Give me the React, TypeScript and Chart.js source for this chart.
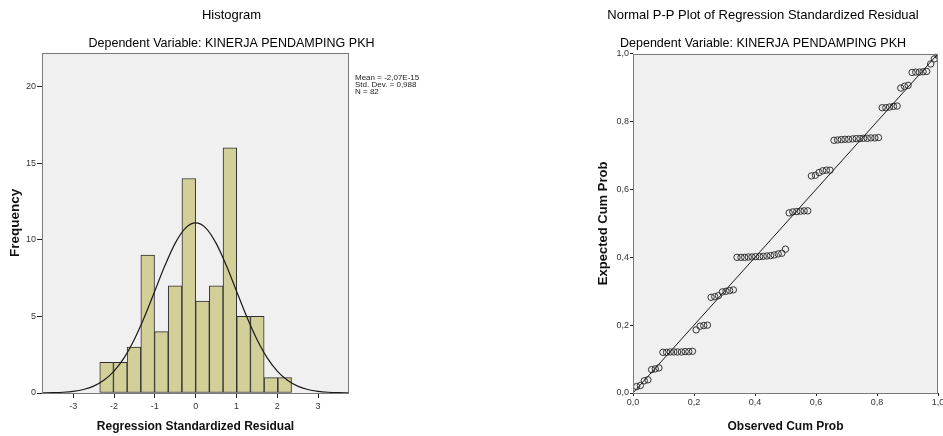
import React, { useEffect, useRef } from "react";
import { Chart, registerables } from "chart.js";
Chart.register(...registerables);

const FONT = "'Liberation Sans', Arial, Helvetica, sans-serif";

// ---------- Histogram data ----------
const HIST_TITLE = "Histogram";
const SUBTITLE = "Dependent Variable: KINERJA PENDAMPING PKH";
const HIST_X_LABEL = "Regression Standardized Residual";
const HIST_Y_LABEL = "Frequency";
const BIN_CENTERS = [-2.182, -1.846, -1.511, -1.175, -0.839, -0.504, -0.168, 0.168, 0.504, 0.839, 1.175, 1.511, 1.846, 2.182];
const FREQUENCIES = [2, 2, 3, 9, 4, 7, 14, 6, 7, 16, 5, 5, 1, 1];
const CURVE_X = [-3.75, -3.5, -3.25, -3, -2.75, -2.5, -2.25, -2, -1.75, -1.5, -1.25, -1, -0.75, -0.5, -0.25, 0, 0.25, 0.5, 0.75, 1, 1.25, 1.5, 1.75, 2, 2.25, 2.5, 2.75, 3, 3.25, 3.5, 3.75];
const CURVE_Y = [0.01, 0.02, 0.05, 0.11, 0.23, 0.45, 0.83, 1.43, 2.31, 3.51, 4.99, 6.66, 8.33, 9.78, 10.76, 11.1, 10.76, 9.78, 8.33, 6.66, 4.99, 3.51, 2.31, 1.43, 0.83, 0.45, 0.23, 0.11, 0.05, 0.02, 0.01];
const HIST_X_TICKS = [-3, -2, -1, 0, 1, 2, 3];
const HIST_Y_TICKS = [0, 5, 10, 15, 20];
const HIST_STATS = ["Mean = -2,07E-15", "Std. Dev. = 0,988", "N = 82"];

// ---------- P-P plot data ----------
const PP_TITLE = "Normal P-P Plot of Regression Standardized Residual";
const PP_X_LABEL = "Observed Cum Prob";
const PP_Y_LABEL = "Expected Cum Prob";
const OBSERVED = [
  0.012, 0.024, 0.037, 0.049, 0.061, 0.073, 0.085,
  0.098, 0.110, 0.122, 0.134, 0.146, 0.159, 0.171, 0.183, 0.195,
  0.207, 0.220, 0.232, 0.244,
  0.256, 0.268, 0.280, 0.293, 0.305, 0.317, 0.329,
  0.341, 0.354, 0.366, 0.378, 0.390, 0.402, 0.415, 0.427, 0.439, 0.451, 0.463, 0.476, 0.488, 0.500,
  0.512, 0.524, 0.537, 0.549, 0.561, 0.573,
  0.585, 0.598, 0.610, 0.622, 0.634, 0.646,
  0.659, 0.671, 0.683, 0.695, 0.707, 0.720, 0.732, 0.744, 0.756, 0.768, 0.780, 0.793, 0.805,
  0.817, 0.829, 0.841, 0.854, 0.866,
  0.878, 0.890, 0.902,
  0.915, 0.927, 0.939, 0.951, 0.963,
  0.976, 0.988, 1.0,
];
const EXPECTED = [
  0.019, 0.022, 0.036, 0.039, 0.069, 0.071, 0.074,
  0.120, 0.120, 0.121, 0.121, 0.121, 0.121, 0.122, 0.122, 0.123,
  0.186, 0.197, 0.199, 0.200,
  0.282, 0.284, 0.287, 0.298, 0.300, 0.302, 0.304,
  0.400, 0.400, 0.400, 0.401, 0.401, 0.402, 0.402, 0.403, 0.404, 0.405, 0.407, 0.410, 0.412, 0.424,
  0.531, 0.534, 0.535, 0.536, 0.537, 0.537,
  0.640, 0.642, 0.650, 0.655, 0.657, 0.657,
  0.745, 0.746, 0.747, 0.748, 0.748, 0.749, 0.750, 0.750, 0.751, 0.751, 0.752, 0.752, 0.753,
  0.841, 0.841, 0.843, 0.845, 0.846,
  0.899, 0.904, 0.907,
  0.945, 0.946, 0.946, 0.947, 0.948,
  0.970, 0.985, 0.995,
];
const DIAGONAL_X = [0, 1];
const DIAGONAL_Y = [0, 1];
const PP_TICKS = [0, 0.2, 0.4, 0.6, 0.8, 1.0];
const PP_TICK_LABELS = ["0,0", "0,2", "0,4", "0,6", "0,8", "1,0"];

const framePlugin = {
  id: "frame",
  beforeDraw(chart: any) {
    const { ctx, chartArea } = chart;
    const { left, top, right, bottom } = chartArea;
    ctx.save();
    ctx.fillStyle = "#f0f0f0";
    ctx.fillRect(left, top, right - left, bottom - top);
    ctx.restore();
  },
  afterDraw(chart: any) {
    const { ctx, chartArea } = chart;
    const { left, top, right, bottom } = chartArea;
    ctx.save();
    ctx.strokeStyle = "#7a7a7a";
    ctx.lineWidth = 1;
    ctx.strokeRect(Math.round(left) + 0.5, Math.round(top) + 0.5, Math.round(right - left) - 1, Math.round(bottom - top));
    ctx.restore();
  },
};

const statsPlugin = {
  id: "stats",
  afterDraw(chart: any) {
    const { ctx, chartArea } = chart;
    ctx.save();
    ctx.font = `8px ${FONT}`;
    ctx.fillStyle = "#222";
    ctx.textBaseline = "middle";
    ctx.textAlign = "left";
    HIST_STATS.forEach((t, i) => ctx.fillText(t, chartArea.right + 6, chartArea.top + 24.5 + i * 7.3));
    ctx.restore();
  },
};

const tickFont = { family: FONT, size: 9 };

export default function App() {
  const histRef = useRef<HTMLCanvasElement>(null);
  const ppRef = useRef<HTMLCanvasElement>(null);

  useEffect(() => {
    const hist = new Chart(histRef.current as HTMLCanvasElement, {
      type: "bar",
      data: {
        datasets: [
          {
            type: "bar",
            data: BIN_CENTERS.map((x, i) => ({ x, y: FREQUENCIES[i] })),
            backgroundColor: "#d3cf98",
            borderColor: "#2e2e2e",
            borderWidth: 1,
            borderSkipped: false,
            barPercentage: 1,
            categoryPercentage: 1,
            order: 1,
          } as any,
          {
            type: "line",
            data: CURVE_X.map((x, i) => ({ x, y: CURVE_Y[i] })),
            borderColor: "#1a1a1a",
            borderWidth: 1.2,
            pointRadius: 0,
            cubicInterpolationMode: "monotone",
            fill: false,
            order: 0,
          } as any,
        ],
      },
      options: {
        responsive: false,
        animation: false,
        layout: { padding: 0 },
        plugins: {
          legend: { display: false },
          tooltip: { enabled: false },
          title: {
            display: true,
            text: HIST_TITLE,
            color: "#000",
            font: { family: FONT, size: 13, weight: "normal" },
            padding: { top: 7.5, bottom: 5 },
          },
          subtitle: {
            display: true,
            text: SUBTITLE,
            color: "#000",
            font: { family: FONT, size: 12.5, weight: "normal" },
            padding: { top: 7.5, bottom: 2.2 },
          },
        },
        scales: {
          x: {
            type: "linear",
            min: -3.765,
            max: 3.758,
            offset: false,
            grid: { drawOnChartArea: false, offset: false, tickLength: 5, color: "#222" },
            border: { display: false },
            ticks: { font: tickFont, color: "#333", padding: 3, maxRotation: 0, autoSkip: false },
            afterBuildTicks: (s: any) => {
              s.ticks = HIST_X_TICKS.map((v) => ({ value: v }));
            },
            title: {
              display: true,
              text: HIST_X_LABEL,
              color: "#111",
              font: { family: FONT, size: 12, weight: "bold" },
              padding: { top: 0, bottom: 1.8 },
            },
            afterFit: (s: any) => {
              s.height = 43;
              s.paddingLeft = 0;
              s.paddingRight = 114;
            },
          } as any,
          y: {
            type: "linear",
            min: 0,
            max: 22.2,
            grid: { drawOnChartArea: false, tickLength: 5, color: "#222" },
            border: { display: false },
            ticks: { font: tickFont, color: "#333", padding: 1 },
            afterBuildTicks: (s: any) => {
              s.ticks = HIST_Y_TICKS.map((v) => ({ value: v }));
            },
            title: {
              display: true,
              text: HIST_Y_LABEL,
              color: "#111",
              font: { family: FONT, size: 13.5, weight: "bold" },
              padding: { top: 7, bottom: 0 },
            },
            afterFit: (s: any) => {
              s.width = 42;
              s.paddingTop = 0;
              s.paddingBottom = 0;
            },
          } as any,
        },
      },
      plugins: [framePlugin, statsPlugin],
    });

    const pp = new Chart(ppRef.current as HTMLCanvasElement, {
      type: "scatter",
      data: {
        datasets: [
          {
            type: "scatter",
            data: OBSERVED.map((x, i) => ({ x, y: EXPECTED[i] })),
            pointRadius: 3.2,
            pointBorderWidth: 1,
            pointBorderColor: "#333",
            pointBackgroundColor: "rgba(0,0,0,0)",
            order: 1,
          } as any,
          {
            type: "line",
            data: DIAGONAL_X.map((x, i) => ({ x, y: DIAGONAL_Y[i] })),
            borderColor: "#1a1a1a",
            borderWidth: 1,
            pointRadius: 0,
            fill: false,
            order: 0,
          } as any,
        ],
      },
      options: {
        responsive: false,
        animation: false,
        layout: { padding: 0 },
        plugins: {
          legend: { display: false },
          tooltip: { enabled: false },
          title: {
            display: true,
            text: PP_TITLE,
            color: "#000",
            font: { family: FONT, size: 13, weight: "normal" },
            padding: { top: 7.5, bottom: 5 },
          },
          subtitle: {
            display: true,
            text: SUBTITLE,
            color: "#000",
            font: { family: FONT, size: 12.5, weight: "normal" },
            padding: { top: 7.5, bottom: 3.2 },
          },
        },
        scales: {
          x: {
            type: "linear",
            min: 0,
            max: 1,
            grid: { drawOnChartArea: false, tickLength: 3, color: "#222" },
            border: { display: false },
            ticks: {
              font: tickFont,
              color: "#333",
              padding: 1,
              maxRotation: 0,
              autoSkip: false,
              callback: (_v: any, i: number) => PP_TICK_LABELS[i],
            },
            afterBuildTicks: (s: any) => {
              s.ticks = PP_TICKS.map((v) => ({ value: v }));
            },
            title: {
              display: true,
              text: PP_X_LABEL,
              color: "#111",
              font: { family: FONT, size: 12, weight: "bold" },
              padding: { top: 0, bottom: 2 },
            },
            afterFit: (s: any) => {
              s.height = 43;
              s.paddingLeft = 0;
              s.paddingRight = 5;
            },
          } as any,
          y: {
            type: "linear",
            min: 0,
            max: 1,
            grid: { drawOnChartArea: false, tickLength: 3, color: "#222" },
            border: { display: false },
            ticks: {
              font: tickFont,
              color: "#333",
              padding: 1,
              callback: (_v: any, i: number) => PP_TICK_LABELS[i],
            },
            afterBuildTicks: (s: any) => {
              s.ticks = PP_TICKS.map((v) => ({ value: v }));
            },
            title: {
              display: true,
              text: PP_Y_LABEL,
              color: "#111",
              font: { family: FONT, size: 13, weight: "bold" },
              padding: { top: 12.5, bottom: 0 },
            },
            afterFit: (s: any) => {
              s.width = 50;
              s.paddingTop = 0;
              s.paddingBottom = 0;
            },
          } as any,
        },
      },
      plugins: [framePlugin],
    });

    return () => {
      hist.destroy();
      pp.destroy();
    };
  }, []);

  return (
    <div style={{ position: "fixed", left: 0, top: 0, width: 943, height: 436, background: "#fff", overflow: "hidden" }}>
      <canvas ref={histRef} width={463} height={436} style={{ position: "absolute", left: 0, top: 0, width: 463, height: 436 }} />
      <canvas ref={ppRef} width={360} height={436} style={{ position: "absolute", left: 583, top: 0, width: 360, height: 436 }} />
    </div>
  );
}
